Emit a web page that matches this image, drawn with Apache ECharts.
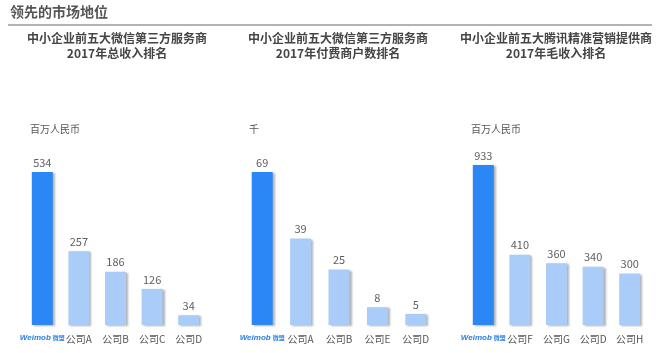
<!DOCTYPE html>
<html>
<head>
<meta charset="utf-8">
<script src="https://cdn.jsdelivr.net/npm/echarts@6/dist/echarts.min.js"></script>
<style>
  html, body { margin: 0; padding: 0; background: #fff; }
  #main { width: 660px; height: 353px; }
</style>
</head>
<body>
<div id="main"></div>
<script>
  // 数据
  const pageTitle = '领先的市场地位'
  const chartTitles = [
    '中小企业前五大微信第三方服务商\n2017年总收入排名',
    '中小企业前五大微信第三方服务商\n2017年付费商户数排名',
    '中小企业前五大腾讯精准营销提供商\n2017年毛收入排名'
  ]
  const units = ['百万人民币', '千', '百万人民币']
  const cats1 = ['Weimob', '公司A', '公司B', '公司C', '公司D']
  const cats2 = ['Weimob', '公司A', '公司B', '公司E', '公司D']
  const cats3 = ['Weimob', '公司F', '公司G', '公司D', '公司H']
  const revenue = [534, 257, 186, 126, 34]
  const merchants = [69, 39, 25, 8, 5]
  const grossRevenue = [933, 410, 360, 340, 300]

  const font = '"Noto Sans CJK SC", "Noto Sans", sans-serif'
  const mainBlue = '#2b87f6'
  const lightBlue = '#a9cdf8'

  const grids = [
    { left: 24, width: 183, top: 172, bottom: 28 },
    { left: 243, width: 192, top: 172, bottom: 28 },
    { left: 465, width: 183, top: 165, bottom: 28 }
  ]
  const catList = [cats1, cats2, cats3]
  const dataList = [revenue, merchants, grossRevenue]
  const titleCenters = [112, 333, 551]

  let myChart = echarts.init(document.getElementById('main'))

  let option = {
    backgroundColor: '#fff',
    animation: false,
    title: [
      {
        text: pageTitle, left: 5, top: 0,
        textStyle: { fontFamily: font, fontSize: 14, fontWeight: 'bold', color: '#555' }
      }
    ].concat(chartTitles.map((t, i) => ({
      text: t, left: titleCenters[i], top: 26, textAlign: 'center',
      textStyle: { fontFamily: font, fontSize: 12, fontWeight: 'bold', color: '#454545', lineHeight: 15 }
    }))),
    graphic: [
      {
        type: 'line',
        shape: { x1: 8, y1: 25, x2: 652, y2: 25 },
        style: { stroke: '#9a9a9a', lineWidth: 1.5 }
      }
    ],
    grid: grids,
    xAxis: catList.map((c, i) => ({
      type: 'category',
      gridIndex: i,
      data: c,
      axisLine: { show: false },
      axisTick: { show: false },
      axisLabel: {
        interval: 0,
        margin: 9,
        fontFamily: font,
        fontSize: 10,
        color: '#555',
        formatter: v => v === 'Weimob' ? '{w|Weimob}{s|微盟}' : v,
        rich: {
          w: { fontFamily: 'Arial, sans-serif', fontStyle: 'italic', fontWeight: 'bold', fontSize: 8, color: '#2a7fe6' },
          s: { fontFamily: font, fontWeight: 'bold', fontSize: 6, color: '#2a7fe6', padding: [0, 0, 0, 2] }
        }
      }
    })),
    yAxis: dataList.map((d, i) => ({
      type: 'value',
      gridIndex: i,
      min: 0,
      max: 'dataMax',
      name: units[i],
      nameLocation: 'end',
      nameGap: i === 2 ? 31 : 38,
      nameTextStyle: { fontFamily: font, fontSize: 10, color: '#555', align: 'left', padding: [0, 0, 0, 6] },
      axisLine: { show: false },
      axisTick: { show: false },
      axisLabel: { show: false },
      splitLine: { show: false }
    })),
    series: dataList.map((d, i) => ({
      type: 'bar',
      xAxisIndex: i,
      yAxisIndex: i,
      barWidth: 21,
      data: d.map((v, j) => ({
        value: v,
        itemStyle: { color: j === 0 ? mainBlue : lightBlue }
      })),
      itemStyle: {
        shadowColor: 'rgba(0,0,0,0.3)',
        shadowBlur: 2,
        shadowOffsetX: 2,
        shadowOffsetY: 1
      },
      label: {
        show: true,
        position: 'top',
        distance: 4,
        fontFamily: font,
        fontSize: 11,
        color: '#606060'
      }
    }))
  }

  myChart.setOption(option, true)
</script>
</body>
</html>
